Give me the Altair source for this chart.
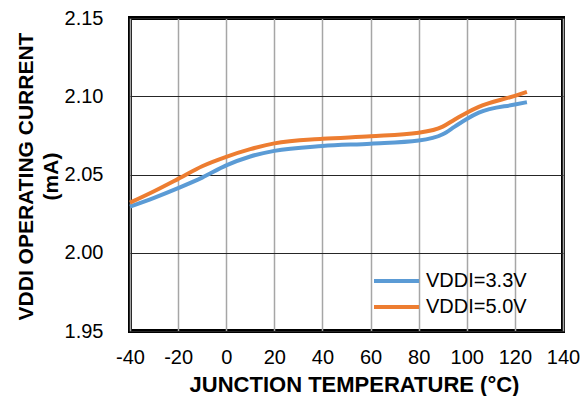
import altair as alt
import pandas as pd

temps = [-40, -30, -20, -10, 0, 10, 20, 40, 60, 80, 90, 95, 100, 105, 120, 125]
vddi_33 = [2.0295, 2.0351, 2.0413, 2.0480, 2.0558, 2.0615, 2.0651, 2.0682, 2.0697, 2.0717, 2.0757, 2.0806, 2.0855, 2.0895, 2.0947, 2.0962]
vddi_50 = [2.0320, 2.0393, 2.0472, 2.0553, 2.0613, 2.0662, 2.0699, 2.0728, 2.0744, 2.0767, 2.0806, 2.0852, 2.0895, 2.0932, 2.1003, 2.1028]
series_names = ["VDDI=3.3V", "VDDI=5.0V"]
series_colors = ["#5b9bd5", "#ed7d31"]
x_ticks = [-40, -20, 0, 20, 40, 60, 80, 100, 120, 140]
y_ticks = [1.95, 2.00, 2.05, 2.10, 2.15]

rows = []
for t, a, b in zip(temps, vddi_33, vddi_50):
    rows.append({"t": t, "v": a, "s": series_names[0]})
    rows.append({"t": t, "v": b, "s": series_names[1]})
df = pd.DataFrame(rows)

chart = alt.Chart(df).mark_line(strokeWidth=4, interpolate="monotone").encode(
    x=alt.X("t:Q", scale=alt.Scale(domain=[-40, 140], nice=False),
            axis=alt.Axis(values=x_ticks, title="JUNCTION TEMPERATURE (°C)",
                          labelExpr="'' + datum.value", labelOverlap=False, labelFlush=False,
                          gridColor="#a6a6a6", gridWidth=1.5, labelPadding=16,
                          titleX=224, titleY=60, titleBaseline="alphabetic",
                          titleAnchor="middle", titleAlign="center", titleFontSize=22)),
    y=alt.Y("v:Q", scale=alt.Scale(domain=[1.95, 2.15], nice=False, zero=False),
            axis=alt.Axis(values=y_ticks, format=".2f", labelOverlap=False, labelFlush=False,
                          title=["VDDI OPERATING CURRENT", "(mA)"],
                          gridColor="#262626", gridWidth=1.2, labelPadding=27,
                          titleX=-104, titleY=158, titleBaseline="middle",
                          titleAlign="center", titleAngle=270, titleLineHeight=25)),
    color=alt.Color("s:N", scale=alt.Scale(domain=series_names, range=series_colors),
                    legend=alt.Legend(title=None, orient="none", legendX=269, legendY=253,
                                      padding=0, symbolType="M-7,0H2", symbolSize=100,
                                      symbolStrokeWidth=4, labelFontSize=20,
                                      labelFont="Liberation Sans", labelColor="#000000",
                                      labelOffset=7, rowPadding=6)),
).properties(
    width=433, height=313,
    padding={"left": 122, "top": 10, "right": 17, "bottom": 65},
    autosize=alt.AutoSizeParams(type="none"),
).configure_view(
    stroke="#000000", strokeWidth=4
).configure_axis(
    domain=False, ticks=False,
    labelFont="Liberation Sans", labelFontSize=20, labelColor="#000000",
    titleFont="Liberation Sans", titleFontSize=21, titleFontWeight="bold", titleColor="#000000",
)

chart.save("out.html", embed_options={"renderer": "svg", "actions": False})
